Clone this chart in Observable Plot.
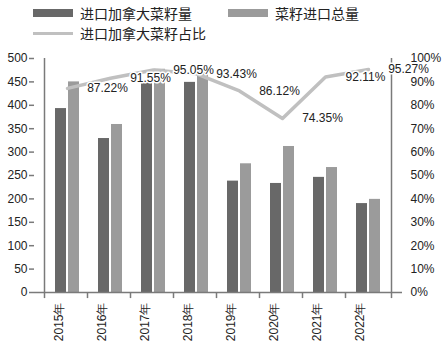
<!DOCTYPE html>
<html>
<head>
<meta charset="utf-8">
<script src="https://cdn.jsdelivr.net/npm/d3@7"></script>
<script src="https://cdn.jsdelivr.net/npm/@observablehq/plot@0.6"></script>
<style>
  body { margin: 0; background: #fff; width: 443px; height: 353px; overflow: hidden; }
  #legend { position: relative; height: 45px; font-family: "Noto Sans CJK SC", sans-serif; font-size: 14px; line-height: 16px; color: #222; }
  .item { position: absolute; display: flex; align-items: center; white-space: nowrap; height: 16px; }
  .sw { display: inline-block; width: 40px; margin-right: 7px; }
  #chart svg { display: block; }
</style>
</head>
<body>
<div id="legend">
  <div class="item" style="left:33px; top:5px;"><span class="sw" style="height:8px;background:#686868"></span>进口加拿大菜籽量</div>
  <div class="item" style="left:228px; top:5px;"><span class="sw" style="height:8px;background:#9b9b9b"></span>菜籽进口总量</div>
  <div class="item" style="left:33px; top:25px;"><span class="sw" style="height:3px;background:#c0c0c0"></span>进口加拿大菜籽占比</div>
</div>
<div id="chart"></div>
<script>
const years = ["2015年", "2016年", "2017年", "2018年", "2019年", "2020年", "2021年", "2022年"];
const canada = [393, 329, 453, 449, 238, 233, 246, 190];
const total = [450, 359, 477, 480, 275, 312, 267, 199];
const share = [87.22, 91.55, 95.05, 93.43, 86.12, 74.35, 92.11, 95.27];
const leftTicks = [0, 50, 100, 150, 200, 250, 300, 350, 400, 450, 500];
const rightTicks = [0, 10, 20, 30, 40, 50, 60, 70, 80, 90, 100];

const k = 5; // 100% maps to 500 on the shared y scale
const table = years.map((y, i) => ({year: y, canada: canada[i], total: total[i], share: share[i]}));

const font = "Liberation Sans, Arial, sans-serif";
const axisColor = "#7a7a7a";
const chart = Plot.plot({
  width: 443,
  height: 308,
  marginTop: 13,
  marginBottom: 61,
  marginLeft: 34,
  marginRight: 41,
  style: {fontFamily: font, fontSize: "12px", color: "#222", background: "#fff"},
  x: {domain: years, padding: 20 / 46, align: 0.5, label: null, axis: null},
  y: {domain: [0, 500], label: null, axis: null},
  marks: [
    Plot.barY(table, {x: "year", y: "canada", fill: "#686868", insetRight: 13}),
    Plot.barY(table, {x: "year", y: "total", fill: "#9b9b9b", insetLeft: 13}),
    Plot.ruleY([0], {stroke: axisColor, strokeWidth: 1.5}),
    Plot.ruleX(years, {x: d => d, y1: 0, y2: -13, dx: -23, stroke: axisColor, strokeWidth: 1.5}),
    Plot.ruleX(years.slice(-1), {x: d => d, y1: 0, y2: -13, dx: 23, stroke: axisColor, strokeWidth: 1.5}),
    Plot.ruleX(years.slice(0, 1), {x: d => d, y1: 0, y2: 500, dx: -23, stroke: axisColor, strokeWidth: 1.5}),
    Plot.ruleX(years.slice(-1), {x: d => d, y1: 0, y2: 500, dx: 23, stroke: axisColor, strokeWidth: 1.5}),
    Plot.axisY({anchor: "left", ticks: leftTicks, tickSize: 5, tickPadding: 2, stroke: axisColor, strokeWidth: 1.5, fontSize: 12, label: null}),
    Plot.axisY({anchor: "right", ticks: rightTicks.map(v => v * k), tickFormat: v => (v / k) + "%", tickSize: 0, tickPadding: 8, fontSize: 12, label: null}),
    Plot.axisX({anchor: "bottom", tickSize: 0, tickPadding: 10, tickRotate: -90, dx: -8, fontSize: 12, label: null}),
    Plot.lineY(table, {x: "year", y: d => d.share * k, stroke: "#c0c0c0", strokeWidth: 3.5}),
    Plot.text(table, {x: "year", y: d => d.share * k, text: d => d.share.toFixed(2) + "%", dx: 40, fontSize: 12, fill: "#222", stroke: "#fff", strokeWidth: 3})
  ]
});
document.getElementById("chart").appendChild(chart);
</script>
</body>
</html>
